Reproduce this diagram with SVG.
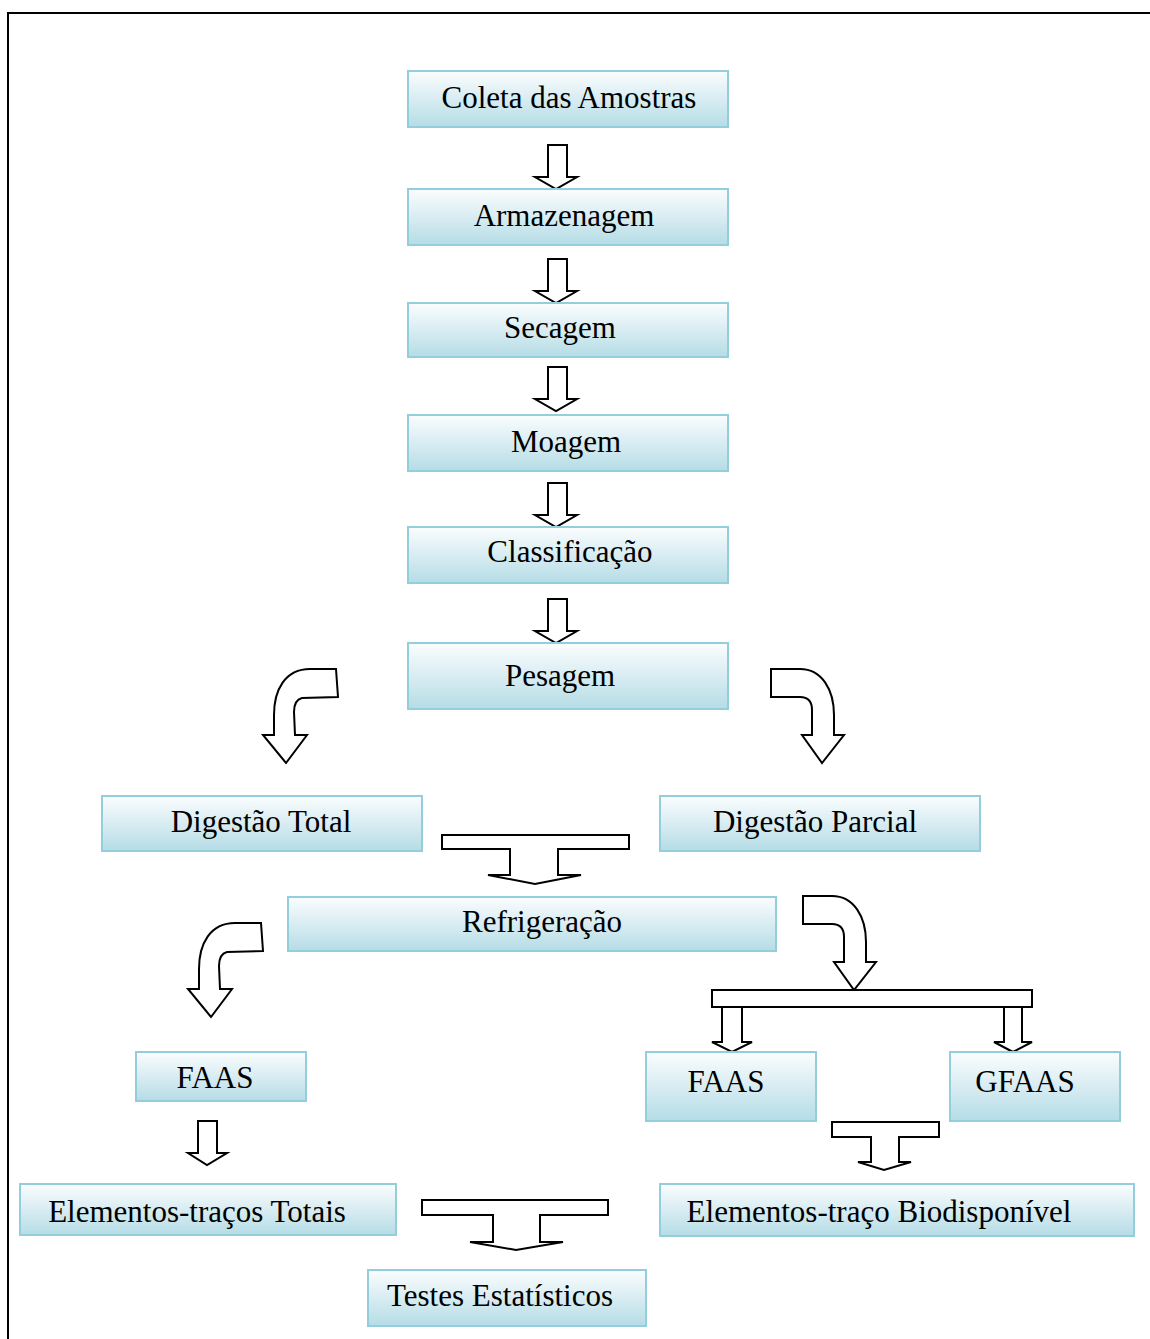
<svg xmlns="http://www.w3.org/2000/svg" width="1150" height="1339" viewBox="0 0 1150 1339">
<defs>
<linearGradient id="g" x1="0" y1="0" x2="0" y2="1">
<stop offset="0" stop-color="#fbfdfe"/>
<stop offset="1" stop-color="#b5dce6"/>
</linearGradient>
<style>
.box{fill:url(#g);stroke:#93cedd;stroke-width:2}
.t{font-family:"Liberation Serif","Times New Roman",serif;font-size:31px;fill:#000;text-anchor:middle}
.ar{fill:#fff;stroke:#000;stroke-width:2;stroke-linejoin:miter}
</style>
</defs>
<rect x="0" y="0" width="1150" height="1339" fill="#fff"/>
<rect x="8" y="13" width="1160" height="1345" fill="none" stroke="#000" stroke-width="2"/>

<g id="connectors">
<path class="ar" d="M548,145 L567,145 L567,177 L577,177 L556,189 L535,177 L548,177 Z"/>
<path class="ar" d="M548,259 L567,259 L567,291 L577,291 L556,303 L535,291 L548,291 Z"/>
<path class="ar" d="M548,367 L567,367 L567,399 L577,399 L556,411 L535,399 L548,399 Z"/>
<path class="ar" d="M548,483 L567,483 L567,515 L577,515 L556,527 L535,515 L548,515 Z"/>
<path class="ar" d="M548,599 L567,599 L567,631 L577,631 L556,643 L535,631 L548,631 Z"/>
<path class="ar" d="M336,669 L338,697 L302,698 Q294,700 294,712 L295,735 L307,735 L286,763 L263,735 L274,735 L274,715 C274,690 285,669 310,669 Z"/>
<path class="ar" d="M771,669 L800,669 C822,669 834,690 834,715 L834,735 L844,735 L822,763 L802,735 L812,735 L812,710 Q812,697 800,697 L771,697 Z"/>
<path class="ar" d="M442,835 L629,835 L629,849 L558,849 L558,875 L581,875 L535,884 L488,875 L510,875 L510,849 L442,849 Z"/>
<path class="ar" transform="translate(-75,254)" d="M336,669 L338,697 L302,698 Q294,700 294,712 L295,735 L307,735 L286,763 L263,735 L274,735 L274,715 C274,690 285,669 310,669 Z"/>
<path class="ar" transform="translate(32,227)" d="M771,669 L800,669 C822,669 834,690 834,715 L834,735 L844,735 L822,763 L802,735 L812,735 L812,710 Q812,697 800,697 L771,697 Z"/>
<rect class="ar" x="712" y="990" width="320" height="17"/>
<path class="ar" d="M722,1007 L742,1007 L742,1042 L752,1042 L732,1052 L712,1042 L722,1042 Z"/>
<path class="ar" d="M1004,1007 L1022,1007 L1022,1042 L1032,1042 L1013,1052 L994,1042 L1004,1042 Z"/>
<path class="ar" d="M198,1121 L217,1121 L217,1153 L227,1153 L207,1165 L188,1153 L198,1153 Z"/>
<path class="ar" d="M832,1122 L939,1122 L939,1137 L899,1137 L899,1162 L911,1162 L884,1170 L858,1162 L871,1162 L871,1137 L832,1137 Z"/>
<path class="ar" d="M422,1200 L608,1200 L608,1215 L540,1215 L540,1242 L563,1242 L516,1250 L470,1242 L493,1242 L493,1215 L422,1215 Z"/>
</g>

<g id="n-coleta"><rect class="box" x="408" y="71" width="320" height="56"/><text class="t" x="569" y="108">Coleta das Amostras</text></g>
<g id="n-armazenagem"><rect class="box" x="408" y="189" width="320" height="56"/><text class="t" x="564" y="226">Armazenagem</text></g>
<g id="n-secagem"><rect class="box" x="408" y="303" width="320" height="54"/><text class="t" x="560" y="338">Secagem</text></g>
<g id="n-moagem"><rect class="box" x="408" y="415" width="320" height="56"/><text class="t" x="566" y="452">Moagem</text></g>
<g id="n-classificacao"><rect class="box" x="408" y="527" width="320" height="56"/><text class="t" x="570" y="562">Classificação</text></g>
<g id="n-pesagem"><rect class="box" x="408" y="643" width="320" height="66"/><text class="t" x="560" y="686">Pesagem</text></g>
<g id="n-dig-total"><rect class="box" x="102" y="796" width="320" height="55"/><text class="t" x="261" y="832">Digestão Total</text></g>
<g id="n-dig-parcial"><rect class="box" x="660" y="796" width="320" height="55"/><text class="t" x="815" y="832">Digestão Parcial</text></g>
<g id="n-refrigeracao"><rect class="box" x="288" y="897" width="488" height="54"/><text class="t" x="542" y="932">Refrigeração</text></g>
<g id="n-faas-l"><rect class="box" x="136" y="1052" width="170" height="49"/><text class="t" x="215" y="1088">FAAS</text></g>
<g id="n-faas-r"><rect class="box" x="646" y="1052" width="170" height="69"/><text class="t" x="726" y="1092">FAAS</text></g>
<g id="n-gfaas"><rect class="box" x="950" y="1052" width="170" height="69"/><text class="t" x="1025" y="1092">GFAAS</text></g>
<g id="n-el-totais"><rect class="box" x="20" y="1184" width="376" height="51"/><text class="t" x="197" y="1222">Elementos-traços Totais</text></g>
<g id="n-el-bio"><rect class="box" x="660" y="1184" width="474" height="52"/><text class="t" x="879" y="1222">Elementos-traço Biodisponível</text></g>
<g id="n-testes"><rect class="box" x="368" y="1270" width="278" height="56"/><text class="t" x="500" y="1306">Testes Estatísticos</text></g>
</svg>
